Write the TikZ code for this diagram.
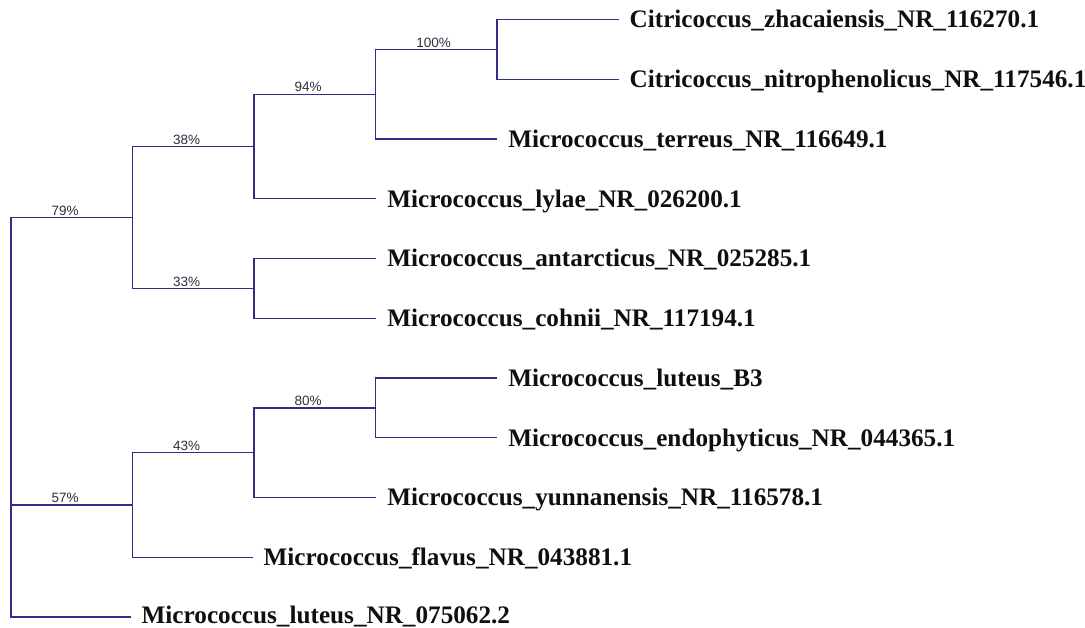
\documentclass[tikz,border=0pt]{standalone}
\usepackage{fontspec}
\setmainfont{Liberation Serif}
\newfontfamily\supfont{Liberation Sans}
\definecolor{branchblue}{RGB}{46,46,135}
\definecolor{suptext}{RGB}{45,45,60}
\definecolor{leaftext}{RGB}{15,15,15}
\begin{document}
\begin{tikzpicture}[x=1pt,y=-1pt,
  br/.style={draw=branchblue,line width=1.3pt,line cap=rect},
  leaf/.style={anchor=base west,inner sep=0pt,text=leaftext,
    font=\fontsize{25.2}{30}\selectfont\bfseries,xshift=11.5pt,yshift=-8.35pt},
  sup/.style={pos=0.5,anchor=south west,inner sep=0pt,text=suptext,
    font=\supfont\fontsize{13.5}{15}\selectfont,xshift=40pt,yshift=1.5pt}]
\useasboundingbox (0,0) rectangle (1085,628);
% internal nodes
\coordinate (root) at (11,505);
\coordinate (n79)  at (132.5,217.4);
\coordinate (n38)  at (254,146.5);
\coordinate (n94)  at (375.7,94.2);
\coordinate (n100) at (497,49.4);
\coordinate (n33)  at (254,288.4);
\coordinate (n57)  at (132.5,505);
\coordinate (n43)  at (254,452.7);
\coordinate (n80)  at (375.7,407.9);
% leaf tips
\coordinate (t1)  at (618,19.5);
\coordinate (t2)  at (618,79.25);
\coordinate (t3)  at (496.7,139);
\coordinate (t4)  at (375.7,198.75);
\coordinate (t5)  at (375.7,258.5);
\coordinate (t6)  at (375.7,318.25);
\coordinate (t7)  at (496.7,378);
\coordinate (t8)  at (496.7,437.75);
\coordinate (t9)  at (375.7,497.5);
\coordinate (t10) at (252,557.25);
\coordinate (t11) at (130,617);
% leaf labels
\node[leaf] (L1)  at (t1)  {Citricoccus\_zhacaiensis\_NR\_116270.1};
\node[leaf] (L2)  at (t2)  {Citricoccus\_nitrophenolicus\_NR\_117546.1};
\node[leaf] (L3)  at (t3)  {Micrococcus\_terreus\_NR\_116649.1};
\node[leaf] (L4)  at (t4)  {Micrococcus\_lylae\_NR\_026200.1};
\node[leaf] (L5)  at (t5)  {Micrococcus\_antarcticus\_NR\_025285.1};
\node[leaf] (L6)  at (t6)  {Micrococcus\_cohnii\_NR\_117194.1};
\node[leaf] (L7)  at (t7)  {Micrococcus\_luteus\_B3};
\node[leaf] (L8)  at (t8)  {Micrococcus\_endophyticus\_NR\_044365.1};
\node[leaf] (L9)  at (t9)  {Micrococcus\_yunnanensis\_NR\_116578.1};
\node[leaf] (L10) at (t10) {Micrococcus\_flavus\_NR\_043881.1};
\node[leaf,yshift=2.2pt] (L11) at (t11) {Micrococcus\_luteus\_NR\_075062.2};
% branches
\draw[br] (root) |- node[sup] {79\%} (n79);
\draw[br] (root) |- node[sup] {57\%} (n57);
\draw[br] (root) |- (t11);
\draw[br] (n79) |- node[sup] {38\%} (n38);
\draw[br] (n79) |- node[sup] {33\%} (n33);
\draw[br] (n38) |- node[sup] {94\%} (n94);
\draw[br] (n38) |- (t4);
\draw[br] (n94) |- node[sup] {100\%} (n100);
\draw[br] (n94) |- (t3);
\draw[br] (n100) |- (t1);
\draw[br] (n100) |- (t2);
\draw[br] (n33) |- (t5);
\draw[br] (n33) |- (t6);
\draw[br] (n57) |- node[sup] {43\%} (n43);
\draw[br] (n57) |- (t10);
\draw[br] (n43) |- node[sup] {80\%} (n80);
\draw[br] (n43) |- (t9);
\draw[br] (n80) |- (t7);
\draw[br] (n80) |- (t8);
\end{tikzpicture}
\end{document}
